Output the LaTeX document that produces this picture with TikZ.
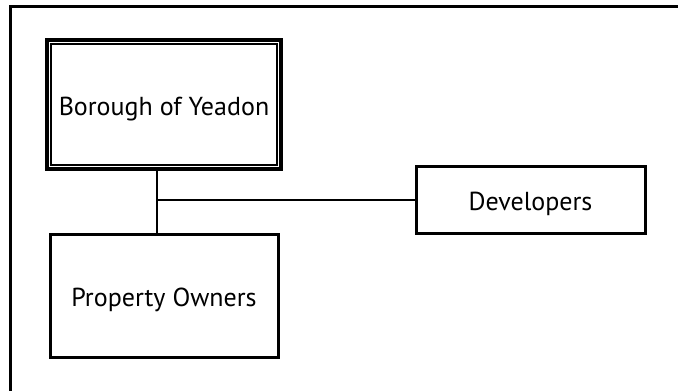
\documentclass[tikz,border=0pt]{standalone}
\usepackage{fontspec}
\setmainfont{PT Sans}
\begin{document}
\begin{tikzpicture}[x=1pt,y=-1pt,
  lbl/.style={inner sep=0pt,font=\fontsize{26}{30}\selectfont,text height=24pt,text depth=2pt},
  box/.style={lbl,draw,line width=3pt,minimum width=#1},
  conn/.style={line width=1.2pt}]
\useasboundingbox (0,0) rectangle (678,391);
% frame (top and left edges visible)
\draw[line width=3pt] (678,6) -- (10,6) -- (10,391);
% Borough double box
\draw[line width=3.2pt] (47,40) rectangle (281,169);
\node[lbl,draw,line width=2pt,minimum width=226pt,minimum height=121pt] (bor) at (164,104.5) {Borough of Yeadon};
\node[box=229pt,minimum height=67pt] (dev) at (530.5,199.5) {Developers};
\node[box=228pt,minimum height=123pt] (own) at (164,295.5) {Property Owners};
\coordinate (bbot) at (157,169);
\draw[conn] (bbot) -- (157,233.5);
\coordinate (j) at (157,200);
\draw[conn] (j) -- (dev.west |- j);
\end{tikzpicture}
\end{document}
